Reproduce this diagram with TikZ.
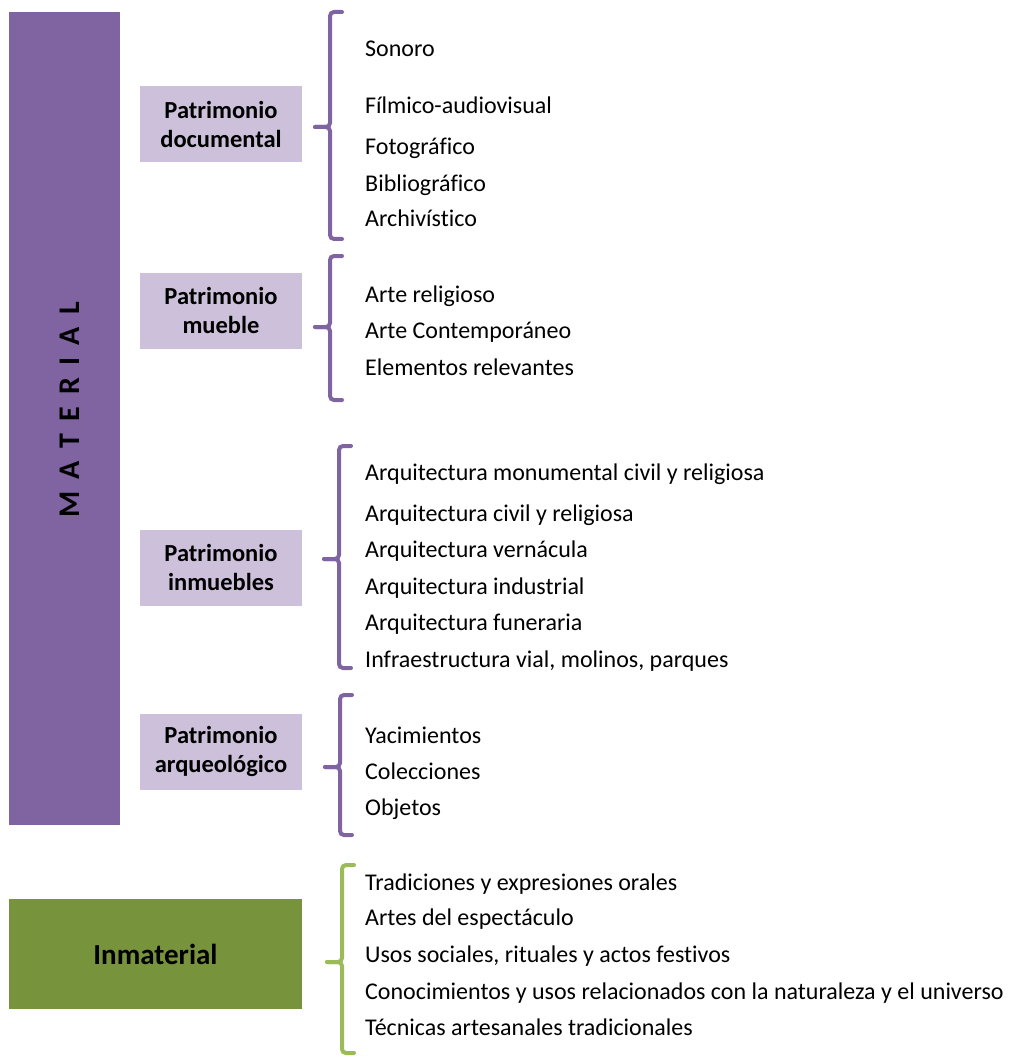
\documentclass[tikz,border=0pt]{standalone}
\usepackage{fontspec}
\setmainfont[Ligatures=NoCommon]{Carlito}
\usetikzlibrary{positioning}
\definecolor{matpurple}{HTML}{8064A2}
\definecolor{boxlilac}{HTML}{CCC0DA}
\definecolor{inmgreen}{HTML}{77933C}
\definecolor{bracegreen}{HTML}{9BBB59}
\newcommand{\widespaces}{\spaceskip=12.3pt\relax}

\begin{document}
\begin{tikzpicture}[x=1pt, y=-1pt,
  cat/.style={fill=boxlilac, minimum width=162pt, minimum height=76pt,
              align=center, inner sep=0pt,
              font=\fontsize{24.5}{29}\selectfont\bfseries},
  item/.style={anchor=base west, inner sep=0pt,
               font=\fontsize{24}{27}\selectfont},
  brace/.style={line width=4pt, line cap=round, rounded corners=4pt}]
\useasboundingbox (0,0) rectangle (1010,1059);
% --- material column ---
\node[fill=matpurple, minimum width=111pt, minimum height=813pt,
      inner sep=0pt, anchor=north west] (material) at (9,12) {};
\node[rotate=90, font=\fontsize{30}{32}\selectfont\bfseries\widespaces]
  (mattext) at (70,410) {M A T E R I A L};
% --- categories ---
\node[cat] (doc) at (221,124) {Patrimonio\\documental};
\node[cat] (mueble) at (221,310.5) {Patrimonio\\mueble};
\node[cat] (inmueble) at (221,567.5) {Patrimonio\\inmuebles};
\node[cat] (arqueo) at (221,751.5) {Patrimonio\\arqueológico};
\node[fill=inmgreen, minimum width=293pt, minimum height=110pt, inner sep=0pt,
      font=\fontsize{29}{30}\selectfont\bfseries] (inmat) at (155.5,954) {Inmaterial};
% --- braces ---
\foreach \x/\t/\m/\b/\c in {330/12/127/239/matpurple, 330/256/327/400/matpurple,
                            339/446/559/668/matpurple, 340/695/767/835/matpurple,
                            342/865/962/1053/bracegreen}
{
  \draw[brace, \c] (\x+12,\t) -- (\x,\t) -- (\x,\m) -- (\x-15,\m);
  \draw[brace, \c] (\x-15,\m) -- (\x,\m) -- (\x,\b) -- (\x+12,\b);
}
% --- items ---
\foreach \y/\t [count=\i] in {57/Sonoro, 114/Fílmico-audiovisual, 155/Fotográfico,
                              192/Bibliográfico, 227/Archivístico}
  \node[item] (doc\i) at (365,\y) {\t};
\foreach \y/\t [count=\i] in {302/Arte religioso, 338/Arte Contemporáneo,
                              375/Elementos relevantes}
  \node[item] (mue\i) at (365,\y) {\t};
\foreach \y/\t [count=\i] in {480/Arquitectura monumental civil y religiosa,
                              521/Arquitectura civil y religiosa,
                              557/Arquitectura vernácula,
                              594/Arquitectura industrial,
                              630/Arquitectura funeraria,
                              667/{Infraestructura vial, molinos, parques}}
  \node[item] (inm\i) at (365,\y) {\t};
\foreach \y/\t [count=\i] in {743/Yacimientos, 779/Colecciones, 815/Objetos}
  \node[item] (arq\i) at (365,\y) {\t};
\foreach \y/\t [count=\i] in {890/Tradiciones y expresiones orales,
                              925/Artes del espectáculo,
                              962/{Usos sociales, rituales y actos festivos},
                              999/Conocimientos y usos relacionados con la naturaleza y el universo,
                              1035/Técnicas artesanales tradicionales}
  \node[item] (int\i) at (365,\y) {\t};
\end{tikzpicture}
\end{document}
